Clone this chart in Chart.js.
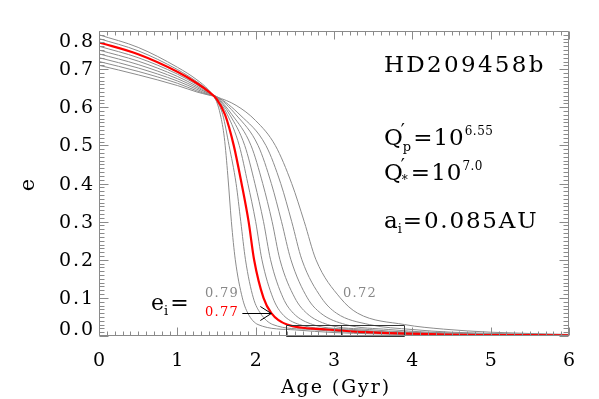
<!DOCTYPE html>
<html>
<head>
<meta charset="utf-8">
<script src="https://cdn.jsdelivr.net/npm/chart.js@4.4.0/dist/chart.umd.min.js"></script>
<style>
  html, body { margin: 0; padding: 0; background: #fff; }
  #wrap { width: 599px; height: 399px; }
</style>
</head>
<body>
<div id="wrap"><canvas id="chart" width="599" height="399"></canvas></div>
<script>
// eccentricity vs age, one curve per initial eccentricity
const initialEcc = [0.79, 0.78, 0.77, 0.76, 0.75, 0.74, 0.73, 0.72, 0.71];
const highlightEcc = 0.77;

const age79 = [0, 0.5, 1.0, 1.25, 1.4, 1.5, 1.55, 1.60, 1.645, 1.69, 1.74, 1.83, 1.90, 2.03, 2.5, 3.0, 4.0, 6.0];
const ecc79 = [0.79, 0.757, 0.705, 0.672, 0.645, 0.615, 0.58, 0.52, 0.42, 0.30, 0.20, 0.10, 0.06, 0.03, 0.016, 0.009, 0.004, 0.001];
const age78 = [0, 0.5, 1.0, 1.25, 1.4, 1.5, 1.58, 1.66, 1.75, 1.81, 1.87, 1.97, 2.06, 2.22, 2.7, 3.2, 4.2, 6.0];
const ecc78 = [0.78, 0.748, 0.699, 0.667, 0.643, 0.618, 0.58, 0.50, 0.40, 0.30, 0.20, 0.10, 0.06, 0.03, 0.017, 0.010, 0.004, 0.0012];
const age77 = [0, 0.5, 1.0, 1.25, 1.4, 1.5, 1.61, 1.72, 1.82, 1.91, 1.98, 2.10, 2.20, 2.40, 2.9, 3.4, 4.4, 6.0];
const ecc77 = [0.77, 0.739, 0.693, 0.663, 0.641, 0.622, 0.58, 0.50, 0.40, 0.30, 0.20, 0.10, 0.06, 0.03, 0.017, 0.010, 0.004, 0.0015];
const age76 = [0, 0.5, 1.0, 1.25, 1.4, 1.5, 1.64, 1.79, 1.90, 2.00, 2.08, 2.22, 2.33, 2.56, 3.1, 3.6, 4.6, 6.0];
const ecc76 = [0.76, 0.730, 0.687, 0.659, 0.639, 0.624, 0.58, 0.50, 0.40, 0.30, 0.20, 0.10, 0.06, 0.03, 0.017, 0.010, 0.004, 0.0018];
const age75 = [0, 0.5, 1.0, 1.25, 1.4, 1.5, 1.67, 1.86, 1.99, 2.10, 2.19, 2.35, 2.48, 2.73, 3.25, 3.75, 4.75, 6.0];
const ecc75 = [0.75, 0.721, 0.681, 0.655, 0.637, 0.626, 0.58, 0.50, 0.40, 0.30, 0.20, 0.10, 0.06, 0.03, 0.017, 0.010, 0.004, 0.002];
const age74 = [0, 0.5, 1.0, 1.25, 1.4, 1.5, 1.70, 1.94, 2.09, 2.21, 2.31, 2.50, 2.65, 2.92, 3.45, 3.95, 4.9, 6.0];
const ecc74 = [0.74, 0.712, 0.675, 0.651, 0.636, 0.627, 0.58, 0.50, 0.40, 0.30, 0.20, 0.10, 0.06, 0.03, 0.017, 0.010, 0.0045, 0.0022];
const age73 = [0, 0.5, 1.0, 1.25, 1.4, 1.5, 1.75, 2.03, 2.20, 2.33, 2.45, 2.66, 2.83, 3.15, 3.7, 4.2, 5.1, 6.0];
const ecc73 = [0.73, 0.703, 0.669, 0.647, 0.634, 0.628, 0.58, 0.50, 0.40, 0.30, 0.20, 0.10, 0.06, 0.03, 0.017, 0.010, 0.005, 0.0026];
const age72 = [0, 0.5, 1.0, 1.25, 1.4, 1.5, 1.8, 2.13, 2.32, 2.46, 2.59, 2.84, 3.03, 3.45, 4.0, 4.5, 5.3, 6.0];
const ecc72 = [0.72, 0.694, 0.663, 0.643, 0.633, 0.628, 0.58, 0.50, 0.40, 0.30, 0.20, 0.10, 0.06, 0.03, 0.017, 0.010, 0.0055, 0.003];
const age71 = [0, 0.5, 1.0, 1.25, 1.4, 1.5, 1.75, 2.0, 2.25, 2.46, 2.62, 2.77, 3.08, 3.30, 3.90, 4.4, 5.0, 6.0];
const ecc71 = [0.71, 0.685, 0.657, 0.640, 0.632, 0.627, 0.605, 0.565, 0.50, 0.40, 0.30, 0.20, 0.10, 0.06, 0.03, 0.018, 0.010, 0.004];

const ageSets = [age79, age78, age77, age76, age75, age74, age73, age72, age71];
const eccSets = [ecc79, ecc78, ecc77, ecc76, ecc75, ecc74, ecc73, ecc72, ecc71];

const xTicks = [0, 1, 2, 3, 4, 5, 6];
const yTicks = [0.0, 0.1, 0.2, 0.3, 0.4, 0.5, 0.6, 0.7, 0.8];
const yTickLabels = ['0.0', '0.1', '0.2', '0.3', '0.4', '0.5', '0.6', '0.7', '0.8'];

// box and arrow marking the low-e region
const boxAges = [2.39, 3.09, 3.9];
const boxTopEcc = 0.029;
const arrowAges = [1.83, 2.2];
const arrowEcc = 0.06;

const FONT = '"DejaVu Serif", serif';
const AXIS_GRAY = '#8a8a8a';

function txt(ctx, s, x, y, size, color, align, spacing) {
  ctx.font = size + 'px ' + FONT;
  ctx.letterSpacing = (spacing !== undefined ? spacing : size * 0.1).toFixed(1) + 'px';
  ctx.fillStyle = color || '#000';
  ctx.textAlign = align || 'left';
  ctx.textBaseline = 'alphabetic';
  ctx.fillText(s, x, y);
  return ctx.measureText(s).width;
}

const frame = {
  id: 'frame',
  afterDatasetsDraw(chart) {
    const { ctx, chartArea: a, scales: { x, y } } = chart;
    ctx.save();

    // box + arrow
    ctx.strokeStyle = '#333';
    ctx.lineWidth = 1;
    const bx0 = x.getPixelForValue(boxAges[0]);
    const bx1 = x.getPixelForValue(boxAges[1]);
    const bx2 = x.getPixelForValue(boxAges[2]);
    const by = y.getPixelForValue(boxTopEcc);
    ctx.beginPath();
    ctx.rect(Math.round(bx0) + 0.5, Math.round(by) + 0.5, Math.round(bx2 - bx0), Math.round(a.bottom - by));
    ctx.moveTo(Math.round(bx1) + 0.5, Math.round(by) + 0.5);
    ctx.lineTo(Math.round(bx1) + 0.5, a.bottom);
    ctx.stroke();

    const ax0 = x.getPixelForValue(arrowAges[0]);
    const ax1 = x.getPixelForValue(arrowAges[1]);
    const ay = Math.round(y.getPixelForValue(arrowEcc)) + 0.5;
    ctx.strokeStyle = '#000';
    ctx.beginPath();
    ctx.moveTo(ax0, ay); ctx.lineTo(ax1, ay);
    ctx.moveTo(ax1 - 11, ay - 7); ctx.lineTo(ax1, ay); ctx.lineTo(ax1 - 11, ay + 7);
    ctx.stroke();

    // frame with inward ticks on all sides
    ctx.strokeStyle = AXIS_GRAY;
    ctx.lineWidth = 1;
    const L = a.left + 0.5, R = a.right - 0.5, T = a.top + 0.5, B = a.bottom - 0.5;
    ctx.beginPath();
    ctx.rect(L, T, R - L, B - T);
    for (let i = 0; i <= 60; i++) {
      const px = Math.round(x.getPixelForValue(i / 10)) + 0.5;
      const len = i % 10 === 0 ? 8 : 4;
      ctx.moveTo(px, B); ctx.lineTo(px, B - len);
      ctx.moveTo(px, T); ctx.lineTo(px, T + len);
    }
    for (let i = 0; i <= 80; i++) {
      const py = Math.round(y.getPixelForValue(i / 100)) + 0.5;
      const len = i % 10 === 0 ? 9 : 5;
      ctx.moveTo(L, py); ctx.lineTo(L + len, py);
      ctx.moveTo(R, py); ctx.lineTo(R - len, py);
    }
    ctx.stroke();

    // tick labels
    yTicks.forEach((v, i) => {
      let py = y.getPixelForValue(v) + 6;
      if (i === 0) py -= 7;
      if (i === yTicks.length - 1) py += 10;
      txt(ctx, yTickLabels[i], 95, py, 19, '#000', 'right');
    });
    xTicks.forEach(v => {
      txt(ctx, String(v), x.getPixelForValue(v) + 1, 366, 19, '#000', 'center');
    });

    // axis titles
    txt(ctx, 'Age (Gyr)', 336, 393, 19, '#000', 'center');
    ctx.save();
    ctx.translate(34, 184);
    ctx.rotate(-Math.PI / 2);
    txt(ctx, 'e', 0, 0, 21, '#000', 'center');
    ctx.restore();

    // annotations
    txt(ctx, 'HD209458b', 384, 72, 23);

    let cx = 384 + txt(ctx, 'Q', 384, 145, 23, '#000', 'left', 0);
    txt(ctx, '\u2032', cx - 2, 137, 18, '#000', 'left', 0);
    cx += txt(ctx, 'p', cx, 151, 13, '#000', 'left', 0);
    cx += txt(ctx, '=10', cx + 2, 145, 23, '#000', 'left', 1) + 2;
    txt(ctx, '6.55', cx, 135, 12, '#000', 'left', 0.5);

    cx = 384 + txt(ctx, 'Q', 384, 180, 23, '#000', 'left', 0);
    txt(ctx, '\u2032', cx - 2, 172, 18, '#000', 'left', 0);
    cx += txt(ctx, '*', cx - 1, 184, 12, '#000', 'left', 0) - 1;
    cx += txt(ctx, '=10', cx + 3, 180, 23, '#000', 'left', 1) + 3;
    txt(ctx, '7.0', cx, 170, 12, '#000', 'left', 0.5);

    cx = 384 + txt(ctx, 'a', 384, 228, 23, '#000', 'left', 0);
    cx += txt(ctx, 'i', cx, 233, 13, '#000', 'left', 0);
    txt(ctx, '=0.085AU', cx + 1, 228, 23, '#000', 'left', 1.8);

    cx = 151 + txt(ctx, 'e', 151, 310, 22, '#000', 'left', 0);
    cx += txt(ctx, 'i', cx, 315, 13, '#000', 'left', 0);
    txt(ctx, '=', cx + 2, 310, 22);

    txt(ctx, '0.79', 205, 297, 13, '#888');
    txt(ctx, '0.77', 205, 316, 13, '#ff0000');
    txt(ctx, '0.72', 343, 297, 13, '#888');

    ctx.restore();
  }
};

const datasets = initialEcc.map((ei, i) => {
  const red = ei === highlightEcc;
  return {
    label: 'e_i = ' + ei,
    data: ageSets[i].map((t, j) => ({ x: t, y: eccSets[i][j] })),
    borderColor: red ? '#ff0000' : '#8c8c8c',
    borderWidth: red ? 2.2 : 1,
    pointRadius: 0,
    fill: false,
    cubicInterpolationMode: 'monotone',
    order: red ? 0 : 1
  };
});

new Chart(document.getElementById('chart'), {
  type: 'line',
  data: { datasets },
  options: {
    responsive: false,
    animation: false,
    layout: { padding: { left: 99, right: 30, top: 31, bottom: 63 } },
    plugins: { legend: { display: false }, tooltip: { enabled: false } },
    scales: {
      x: { type: 'linear', min: 0, max: 6, display: false },
      y: { type: 'linear', min: 0, max: 0.8, display: false }
    }
  },
  plugins: [frame]
});
</script>
</body>
</html>
